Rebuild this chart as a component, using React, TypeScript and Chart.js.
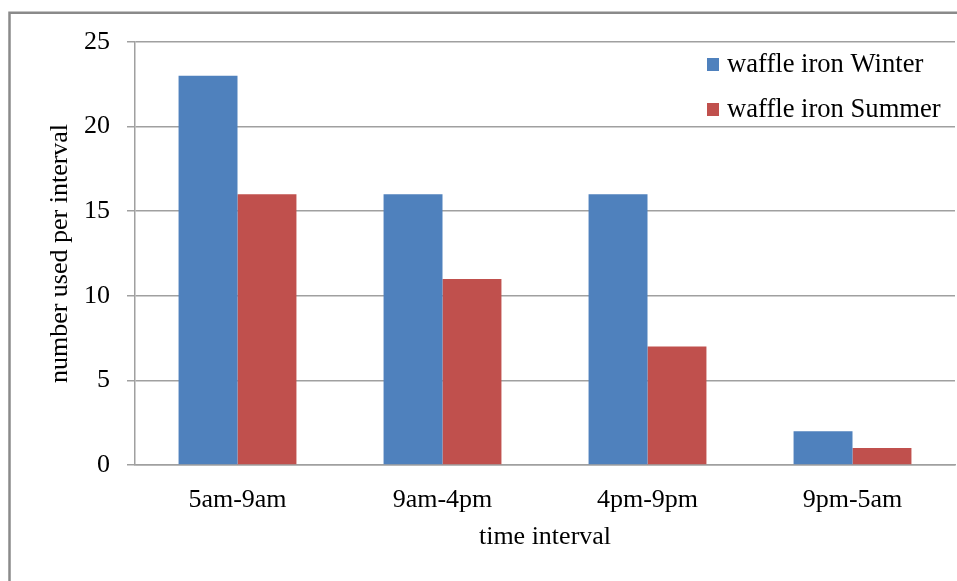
import React, { useEffect, useRef } from "react";
import { Chart, registerables } from "chart.js";

Chart.register(...registerables);

const categories = ["5am-9am", "9am-4pm", "4pm-9pm", "9pm-5am"];
const winterValues = [23, 16, 16, 2];
const summerValues = [16, 11, 7, 1];
const seriesNames = ["waffle iron Winter", "waffle iron Summer"];
const seriesColors = ["#4f81bd", "#c0504d"];
const yTitle = "number used per interval";
const xTitle = "time interval";

const FONT = "'Liberation Serif', 'Times New Roman', serif";

const framePlugin = {
  id: "frame",
  beforeDraw(chart: any) {
    const ctx = chart.ctx;
    ctx.save();
    ctx.fillStyle = "#ffffff";
    ctx.fillRect(0, 0, chart.width, chart.height);
    ctx.strokeStyle = "#8a8a8a";
    ctx.lineWidth = 2.5;
    ctx.beginPath();
    ctx.moveTo(9.5, chart.height + 5);
    ctx.lineTo(9.5, 12.8);
    ctx.lineTo(chart.width + 5, 12.8);
    ctx.stroke();
    ctx.restore();
  },
};

const legendPlugin = {
  id: "customLegend",
  afterDraw(chart: any) {
    const ctx = chart.ctx;
    ctx.save();
    const x0 = 707;
    const ys = [64.5, 109.5];
    chart.data.datasets.forEach((ds: any, i: number) => {
      ctx.fillStyle = ds.backgroundColor;
      ctx.fillRect(x0, ys[i] - 6.5, 12, 13);
      ctx.fillStyle = "#000000";
      ctx.font = `26.6px ${FONT}`;
      ctx.textBaseline = "middle";
      ctx.textAlign = "left";
      ctx.fillText(ds.label, x0 + 20, ys[i] + 1);
    });
    ctx.restore();
  },
};

export default function App() {
  const ref = useRef<HTMLCanvasElement>(null);
  useEffect(() => {
    if (!ref.current) return;
    const chart = new Chart(ref.current, {
      type: "bar",
      data: {
        labels: categories,
        datasets: [
          { label: seriesNames[0], data: winterValues, backgroundColor: seriesColors[0] },
          { label: seriesNames[1], data: summerValues, backgroundColor: seriesColors[1] },
        ],
      },
      options: {
        responsive: false,
        animation: false,
        devicePixelRatio: 1,
        layout: { padding: { top: 42, right: 2, left: 0, bottom: 0 } },
        datasets: { bar: { categoryPercentage: 0.575, barPercentage: 1 } },
        plugins: { legend: { display: false }, tooltip: { enabled: false } },
        scales: {
          x: {
            grid: { display: false },
            border: { display: true, color: "#a0a0a0", width: 1.5 },
            ticks: { color: "#000", font: { family: FONT, size: 26 }, padding: 12 },
            title: {
              display: true,
              text: xTitle,
              color: "#000",
              font: { family: FONT, size: 26 },
              padding: { top: 0, bottom: 28 },
            },
            afterFit(scale: any) {
              scale.height = 116;
            },
          },
          y: {
            min: 0,
            max: 25,
            ticks: { stepSize: 5, color: "#000", font: { family: FONT, size: 26 }, padding: 17 },
            grid: { color: "#a0a0a0", lineWidth: 1.5, tickLength: 8 },
            border: { display: true, color: "#a0a0a0", width: 1.5 },
            title: {
              display: true,
              text: yTitle,
              color: "#000",
              font: { family: FONT, size: 26 },
              padding: { top: 45, bottom: 0 },
            },
            afterFit(scale: any) {
              scale.width = 135;
            },
          },
        },
      },
      plugins: [framePlugin, legendPlugin],
    });
    return () => chart.destroy();
  }, []);
  return (
    <div style={{ position: "fixed", left: 0, top: 0, width: 957, height: 581, background: "#fff" }}>
      <canvas ref={ref} width={957} height={581} />
    </div>
  );
}
